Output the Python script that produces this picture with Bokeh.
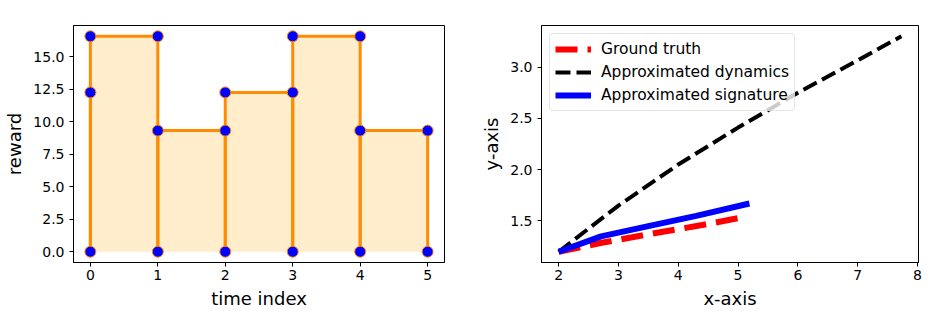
from bokeh.plotting import figure
from bokeh.layouts import row
from bokeh.models import FixedTicker, Range1d, PrintfTickFormatter, Legend
from bokeh.embed import file_html
from bokeh.resources import INLINE

# ---------------- data ----------------
times = [0, 1, 2, 3, 4, 5]
rewards = [12.26, 16.58, 9.32, 12.26, 16.58, 9.32]
left_xticks = [0, 1, 2, 3, 4, 5]
left_yticks = [0.0, 2.5, 5.0, 7.5, 10.0, 12.5, 15.0]

gt_x = [2.0, 2.7, 3.6, 4.4, 5.12]
gt_y = [1.20, 1.285, 1.38, 1.46, 1.54]
dyn_x = [2.0, 3.0, 4.0, 5.0, 6.0, 7.0, 7.73]
dyn_y = [1.20, 1.65, 2.05, 2.41, 2.75, 3.066, 3.30]
sig_x = [2.0, 2.71, 3.5, 4.3, 5.19]
sig_y = [1.20, 1.35, 1.45, 1.55, 1.67]
right_xticks = [2, 3, 4, 5, 6, 7, 8]
right_yticks = [1.5, 2.0, 2.5, 3.0]

FONT = "DejaVu Sans"
ORANGE = "#ff8c00"
FILL = "#ffa500"


def style(p, xticks, yticks, xlabel, ylabel, xfmt, yfmt):
    p.grid.grid_line_color = None
    p.outline_line_color = "black"
    p.outline_line_width = 1
    for ax in (p.xaxis[0], p.yaxis[0]):
        ax.axis_line_color = "black"
        ax.major_tick_line_color = "black"
        ax.major_tick_out = 4
        ax.major_tick_in = 0
        ax.minor_tick_line_color = None
        ax.major_label_text_font = FONT
        ax.major_label_text_font_size = "14px"
        ax.major_label_text_color = "black"
        ax.axis_label_text_font = FONT
        ax.axis_label_text_font_size = "18px"
        ax.axis_label_text_font_style = "normal"
        ax.axis_label_text_color = "black"
        ax.axis_label_standoff = 5
    p.xaxis[0].major_label_standoff = 3
    p.yaxis[0].major_label_standoff = 5
    p.xaxis[0].ticker = FixedTicker(ticks=xticks)
    p.yaxis[0].ticker = FixedTicker(ticks=yticks)
    p.xaxis[0].formatter = PrintfTickFormatter(format=xfmt)
    p.yaxis[0].formatter = PrintfTickFormatter(format=yfmt)
    p.xaxis[0].axis_label = xlabel
    p.yaxis[0].axis_label = ylabel


H = 318

# ---------------- left plot ----------------
rmax = max(rewards)
tpad = 0.05 * (max(times) - min(times))
rpad = 0.05 * rmax
p1 = figure(width=470, height=H, output_backend="svg", toolbar_location=None,
            x_range=Range1d(min(times) - tpad, max(times) + tpad),
            y_range=Range1d(-rpad, rmax + rpad),
            min_border_left=73, min_border_right=26, min_border_top=24, min_border_bottom=56)
p1.background_fill_color = "white"
p1.border_fill_color = "white"

# fill polygon under the steps
px = [times[0]]
py = [0]
for i in range(1, len(times)):
    px += [times[i - 1], times[i]]
    py += [rewards[i], rewards[i]]
px += [times[-1]]
py += [0]
p1.patch(px, py, fill_color=FILL, fill_alpha=0.2, line_color=None)

# outlines
xs = [[times[0], times[0]]]
ys = [[0, rewards[0]]]
for i in range(1, len(times)):
    xs.append([times[i - 1], times[i - 1], times[i], times[i]])
    ys.append([0, rewards[i], rewards[i], 0])
p1.multi_line(xs, ys, line_color=ORANGE, line_width=3)

# markers
mx, my = [times[0]], [rewards[0]]
for t in times:
    mx.append(t)
    my.append(0)
for i in range(1, len(times)):
    mx += [times[i - 1], times[i]]
    my += [rewards[i], rewards[i]]
p1.scatter(mx, my, size=11, fill_color="blue", line_color=ORANGE, line_width=1)

style(p1, left_xticks, left_yticks, "time index", "reward", "%d", "%.1f")

# ---------------- right plot ----------------
allx = gt_x + dyn_x + sig_x
ally = gt_y + dyn_y + sig_y
xpad = 0.05 * (max(allx) - min(allx))
ypad = 0.05 * (max(ally) - min(ally))
p2 = figure(width=476, height=H, output_backend="svg", toolbar_location=None,
            x_range=Range1d(min(allx) - xpad, max(allx) + xpad),
            y_range=Range1d(min(ally) - ypad, max(ally) + ypad),
            min_border_left=71, min_border_right=28, min_border_top=25, min_border_bottom=56)
p2.background_fill_color = "white"
p2.border_fill_color = "white"

r_gt = p2.line(gt_x, gt_y, line_color="red", line_width=6, line_dash="22 10")
r_dyn = p2.line(dyn_x, dyn_y, line_color="black", line_width=4, line_dash="15 6")
r_sig = p2.line(sig_x, sig_y, line_color="blue", line_width=6)

style(p2, right_xticks, right_yticks, "x-axis", "y-axis", "%d", "%.1f")

legend = Legend(items=[("Ground truth", [r_gt]),
                       ("Approximated dynamics", [r_dyn]),
                       ("Approximated signature", [r_sig])],
                location="top_left")
legend.margin = 8
legend.padding = 5
legend.spacing = 3
legend.label_height = 20
legend.glyph_height = 20
legend.glyph_width = 36
legend.label_standoff = 10
legend.label_text_font = FONT
legend.label_text_font_size = "15.5px"
legend.label_text_color = "black"
legend.border_line_color = "#cccccc"
legend.border_line_width = 1
legend.border_radius = 4
legend.background_fill_alpha = 0.8
p2.add_layout(legend)

layout = row(p1, p2)
open("out.html", "w").write(file_html(layout, INLINE))
